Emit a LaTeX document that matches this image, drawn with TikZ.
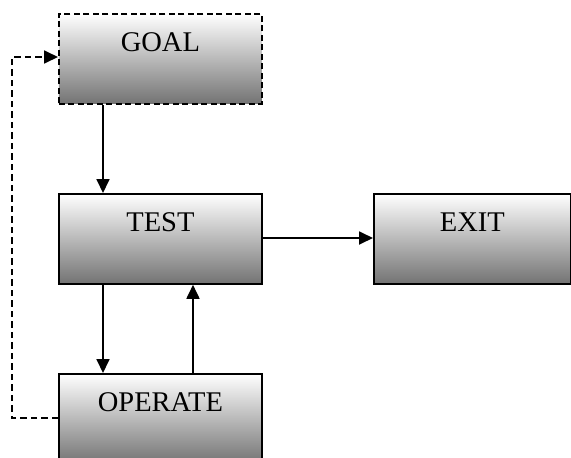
\documentclass[tikz,border=0pt]{standalone}
\usepackage{fontspec}
\setmainfont{Liberation Serif}
\usetikzlibrary{arrows.meta}
\begin{document}
\begin{tikzpicture}[x=1pt,y=-1pt,
  block/.style={draw=black, line width=1.8pt, top color=white, bottom color=black!55,
    inner xsep=0pt, inner ysep=0pt, text width=#1, align=center,
    text height=38pt, text depth=52pt, anchor=north west,
    font=\fontsize{28.5}{30}\selectfont},
  block/.default=203pt,
  flow/.style={line width=1.8pt, -{Triangle[length=14pt,width=13pt]}},
  feedback/.style={flow, dash pattern=on 6.5pt off 4pt}]
  \useasboundingbox (0,0) rectangle (571,458);
  % the four stages of the loop
  \node[block, dash pattern=on 6pt off 3.5pt] (goal) at (58,13) {GOAL};
  \node[block] (test) at (58,193) {TEST};
  \node[block=197pt] (exit) at (373,193) {EXIT};
  \node[block] (operate) at (58,373) {OPERATE};
  % connectors
  \draw[flow] (goal.south -| 103,0) -- (test.north -| 103,0);
  \draw[flow] (test.east |- 0,238) -- (exit.west |- 0,238);
  \draw[flow] (test.south -| 103,0) -- (operate.north -| 103,0);
  \draw[flow] (operate.north -| 193,0) -- (test.south -| 193,0);
  \coordinate (loopbot) at (12,418);
  \coordinate (looptop) at (12,57);
  \draw[feedback] (operate.west |- loopbot) -- (loopbot) -- (looptop) -- (goal.west |- looptop);
\end{tikzpicture}
\end{document}
